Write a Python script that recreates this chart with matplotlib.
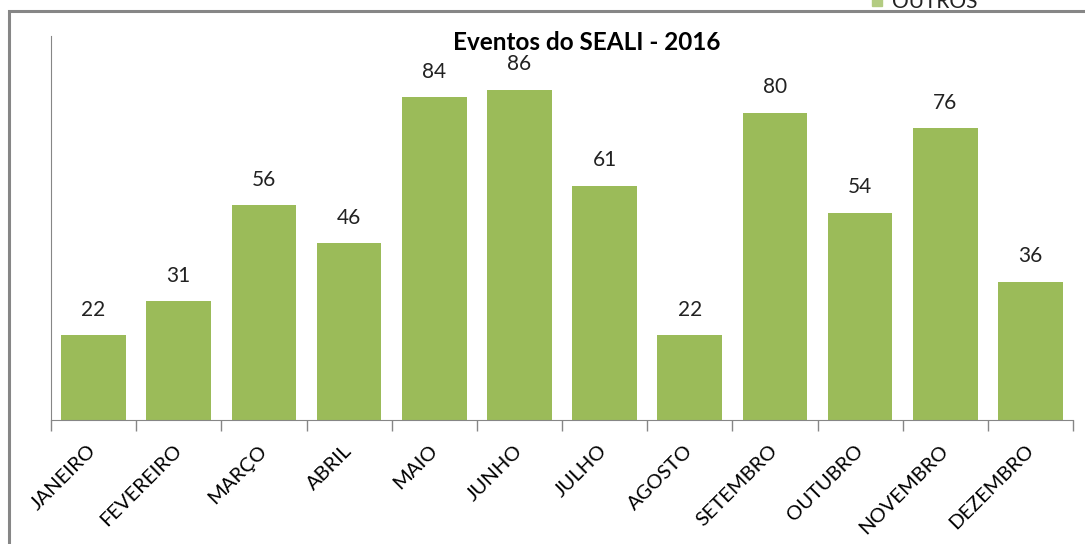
import matplotlib
matplotlib.use('Agg')
import matplotlib.pyplot as plt
from matplotlib.patches import Rectangle

plt.rcParams['font.family'] = ['Lato', 'DejaVu Sans']

meses = ['JANEIRO', 'FEVEREIRO', 'MARÇO', 'ABRIL', 'MAIO', 'JUNHO',
         'JULHO', 'AGOSTO', 'SETEMBRO', 'OUTUBRO', 'NOVEMBRO', 'DEZEMBRO']
eventos = [22, 31, 56, 46, 84, 86, 61, 22, 80, 54, 76, 36]

GREEN = '#9BBB59'
GRAY = '#868686'

fig = plt.figure(figsize=(10.85, 5.44), dpi=100)
ax = fig.add_axes([0.047, 0.228, 0.942, 0.706])

x = list(range(len(meses)))
bars = ax.bar(x, eventos, width=0.76, color=GREEN)

# data labels above the bars
for b, v in zip(bars, eventos):
    ax.annotate(str(v), (b.get_x() + b.get_width() / 2, v),
                xytext=(0, 11), textcoords='offset points',
                ha='center', va='bottom', fontsize=15, color='#222222')

ax.set_xlim(-0.5, len(meses) - 0.5)
ax.set_ylim(0, 100)
ax.set_yticks([])

# ticks between categories, labels at the centers
ax.set_xticks([i - 0.5 for i in range(len(meses) + 1)])
ax.set_xticklabels([])
ax.set_xticks(x, minor=True)
ax.set_xticklabels(meses, minor=True, rotation=45, ha='right',
                   va='center', rotation_mode='anchor', fontsize=14.5)
ax.tick_params(axis='x', which='major', length=8, color=GRAY, width=1)
ax.tick_params(axis='x', which='minor', length=0, pad=20)

for s in ['top', 'right']:
    ax.spines[s].set_visible(False)
ax.spines['left'].set_color(GRAY)
ax.spines['bottom'].set_color(GRAY)

fig.text(0.541, 0.921, 'Eventos do SEALI - 2016', ha='center', va='center',
         fontsize=17.5, fontweight='bold')

# outer chart frame (cut at right/bottom)
fig.patches.append(Rectangle((0.0085, -0.05), 1.05, 0.05 + 0.9795,
                             transform=fig.transFigure, fill=False,
                             edgecolor=GRAY, linewidth=2.2))

# legend partly outside the picture
fig.patches.append(Rectangle((872 / 1085, 1 - 6 / 544), 10 / 1085, 12 / 544,
                             transform=fig.transFigure, color='#B3CC82'))
fig.text(892 / 1085, 1 - 2 / 544, 'OUTROS', ha='left', va='center',
         fontsize=15, color='#222222')

fig.savefig('out.png', dpi=100)
